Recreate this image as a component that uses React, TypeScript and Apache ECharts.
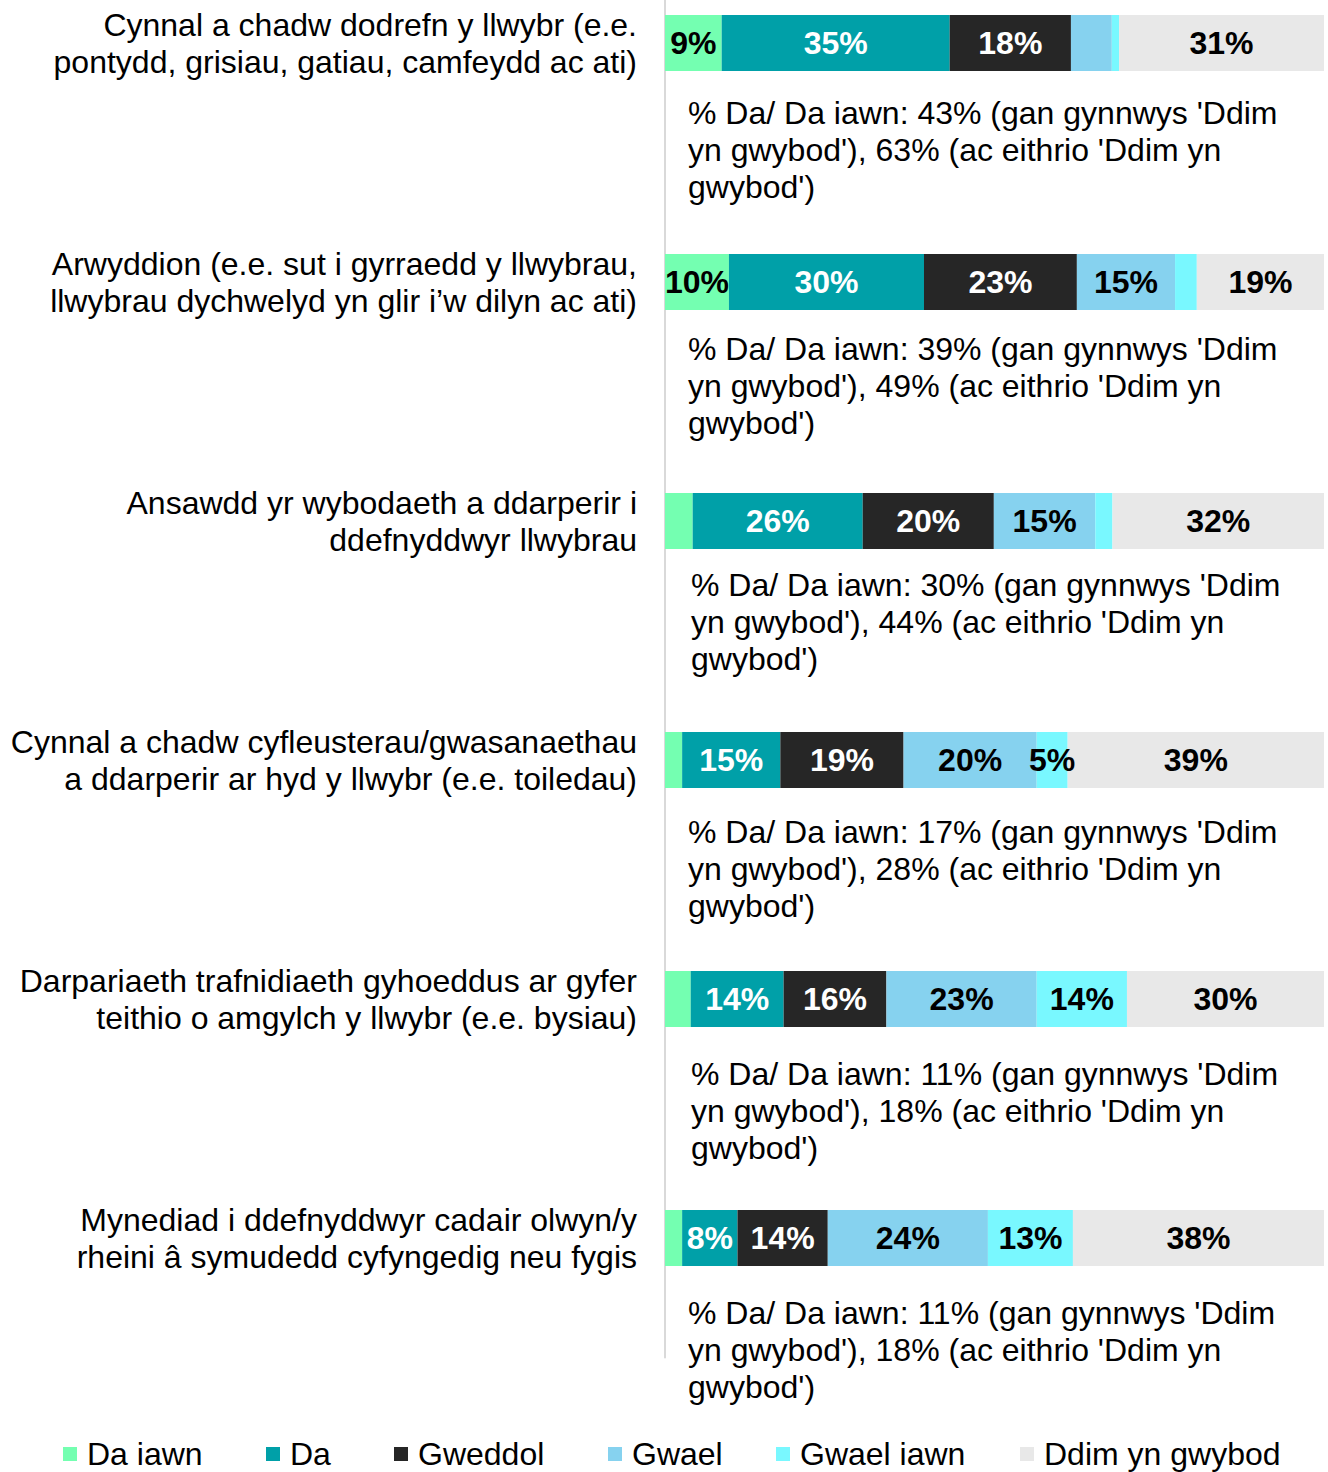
import React, { useEffect, useRef } from "react";
import * as echarts from "echarts";

const categories = [
  "Cynnal a chadw dodrefn y llwybr (e.e.\npontydd, grisiau, gatiau, camfeydd ac ati)",
  "Arwyddion (e.e. sut i gyrraedd y llwybrau,\nllwybrau dychwelyd yn glir i’w dilyn ac ati)",
  "Ansawdd yr wybodaeth a ddarperir i\nddefnyddwyr llwybrau",
  "Cynnal a chadw cyfleusterau/gwasanaethau\na ddarperir ar hyd y llwybr (e.e. toiledau)",
  "Darpariaeth trafnidiaeth gyhoeddus ar gyfer\nteithio o amgylch y llwybr (e.e. bysiau)",
  "Mynediad i ddefnyddwyr cadair olwyn/y\nrheini â symudedd cyfyngedig neu fygis",
];

const seriesNames = ["Da iawn", "Da", "Gweddol", "Gwael", "Gwael iawn", "Ddim yn gwybod"];

const daIawn = [8.6, 9.7, 4.2, 2.6, 3.9, 2.6];
const da = [34.6, 29.6, 25.8, 14.9, 14.1, 8.4];
const gweddol = [18.4, 23.2, 19.9, 18.7, 15.6, 13.7];
const gwael = [6.2, 14.9, 15.4, 20.2, 22.8, 24.3];
const gwaelIawn = [1.1, 3.3, 2.6, 4.7, 13.7, 12.9];
const ddimYnGwybod = [31.1, 19.3, 32.1, 38.9, 29.9, 38.1];

// [seriesIndex, rowIndex] whose value labels are not shown
const hiddenLabels = [
  [0, 2], [0, 3], [0, 4], [0, 5],
  [3, 0],
  [4, 0], [4, 1], [4, 2],
];

const annotations = [
  "% Da/ Da iawn: 43% (gan gynnwys 'Ddim\nyn gwybod'), 63% (ac eithrio 'Ddim yn\ngwybod')",
  "% Da/ Da iawn: 39% (gan gynnwys 'Ddim\nyn gwybod'), 49% (ac eithrio 'Ddim yn\ngwybod')",
  "% Da/ Da iawn: 30% (gan gynnwys 'Ddim\nyn gwybod'), 44% (ac eithrio 'Ddim yn\ngwybod')",
  "% Da/ Da iawn: 17% (gan gynnwys 'Ddim\nyn gwybod'), 28% (ac eithrio 'Ddim yn\ngwybod')",
  "% Da/ Da iawn: 11% (gan gynnwys 'Ddim\nyn gwybod'), 18% (ac eithrio 'Ddim yn\ngwybod')",
  "% Da/ Da iawn: 11% (gan gynnwys 'Ddim\nyn gwybod'), 18% (ac eithrio 'Ddim yn\ngwybod')",
];

// layout: annotation offsets (px) relative to the bar
const annotationDx = [23, 23, 26, 23, 26, 23];
const annotationDy = [70, 67, 64, 72, 75, 75];
// layout: legend item left positions (px)
const legendLefts = [63, 266, 394, 608, 776, 1020];

const colors = ["#74FFB1", "#00A0A8", "#262626", "#86D2EF", "#79F8FF", "#E8E8E8"];
const labelColors = ["#000", "#fff", "#fff", "#000", "#000", "#000"];

const FONT = "'Liberation Sans', Arial, sans-serif";

export default function App() {
  const ref = useRef<HTMLDivElement>(null);

  useEffect(() => {
    if (!ref.current) return;
    const chart = echarts.init(ref.current, undefined, { renderer: "svg" });
    const allValues = [daIawn, da, gweddol, gwael, gwaelIawn, ddimYnGwybod];
    const hidden = new Set(hiddenLabels.map(([s, r]) => `${s}-${r}`));

    const series = allValues.map((vals, si) => ({
      name: seriesNames[si],
      type: "bar",
      stack: "total",
      barWidth: 56,
      itemStyle: { color: colors[si] },
      label: {
        show: true,
        position: "inside",
        color: labelColors[si],
        fontFamily: FONT,
        fontWeight: "bold",
        fontSize: 32,
        formatter: (p: any) => `${Math.round(p.value)}%`,
      },
      emphasis: { disabled: true },
      data: vals.map((v, ri) =>
        hidden.has(`${si}-${ri}`) ? { value: v, label: { show: false } } : v
      ),
    }));

    const legend = seriesNames.map((n, i) => ({
      data: [{ name: n, icon: "rect" }],
      left: legendLefts[i],
      top: 1438,
      padding: 0,
      itemWidth: 14,
      itemHeight: 14,
      textStyle: { fontSize: 32, color: "#000", fontFamily: FONT, padding: [0, 0, 0, 5] },
      selectedMode: false,
    }));

    chart.setOption({
      animation: false,
      textStyle: { fontFamily: FONT },
      legend,
      grid: {
        left: 665,
        width: 659,
        top: -76.5,
        height: 1434,
        containLabel: false,
        outerBoundsMode: "none",
      },
      xAxis: {
        type: "value",
        min: 0,
        max: 100,
        show: false,
      },
      yAxis: {
        type: "category",
        inverse: true,
        data: categories,
        axisLine: { show: true, lineStyle: { color: "#D9D9D9", width: 2 } },
        axisTick: { show: false },
        axisLabel: {
          margin: 28,
          fontSize: 32,
          lineHeight: 37,
          color: "#000",
          align: "right",
          fontFamily: FONT,
        },
      },
      series,
    });

    const graphic = annotations.map((t, i) => {
      const x = chart.convertToPixel({ xAxisIndex: 0 }, 0) as number;
      const y = chart.convertToPixel({ yAxisIndex: 0 }, categories[i]) as number;
      return {
        type: "text",
        x: x + annotationDx[i],
        y: y + annotationDy[i] - 18.5,
        style: {
          text: t,
          fontSize: 32,
          lineHeight: 37,
          fontFamily: FONT,
          fill: "#000",
          textAlign: "left",
          textVerticalAlign: "top",
        },
        silent: true,
      };
    });
    chart.setOption({ graphic });

    return () => chart.dispose();
  }, []);

  return (
    <div
      ref={ref}
      style={{ position: "absolute", left: 0, top: 0, width: 1328, height: 1472 }}
    />
  );
}
